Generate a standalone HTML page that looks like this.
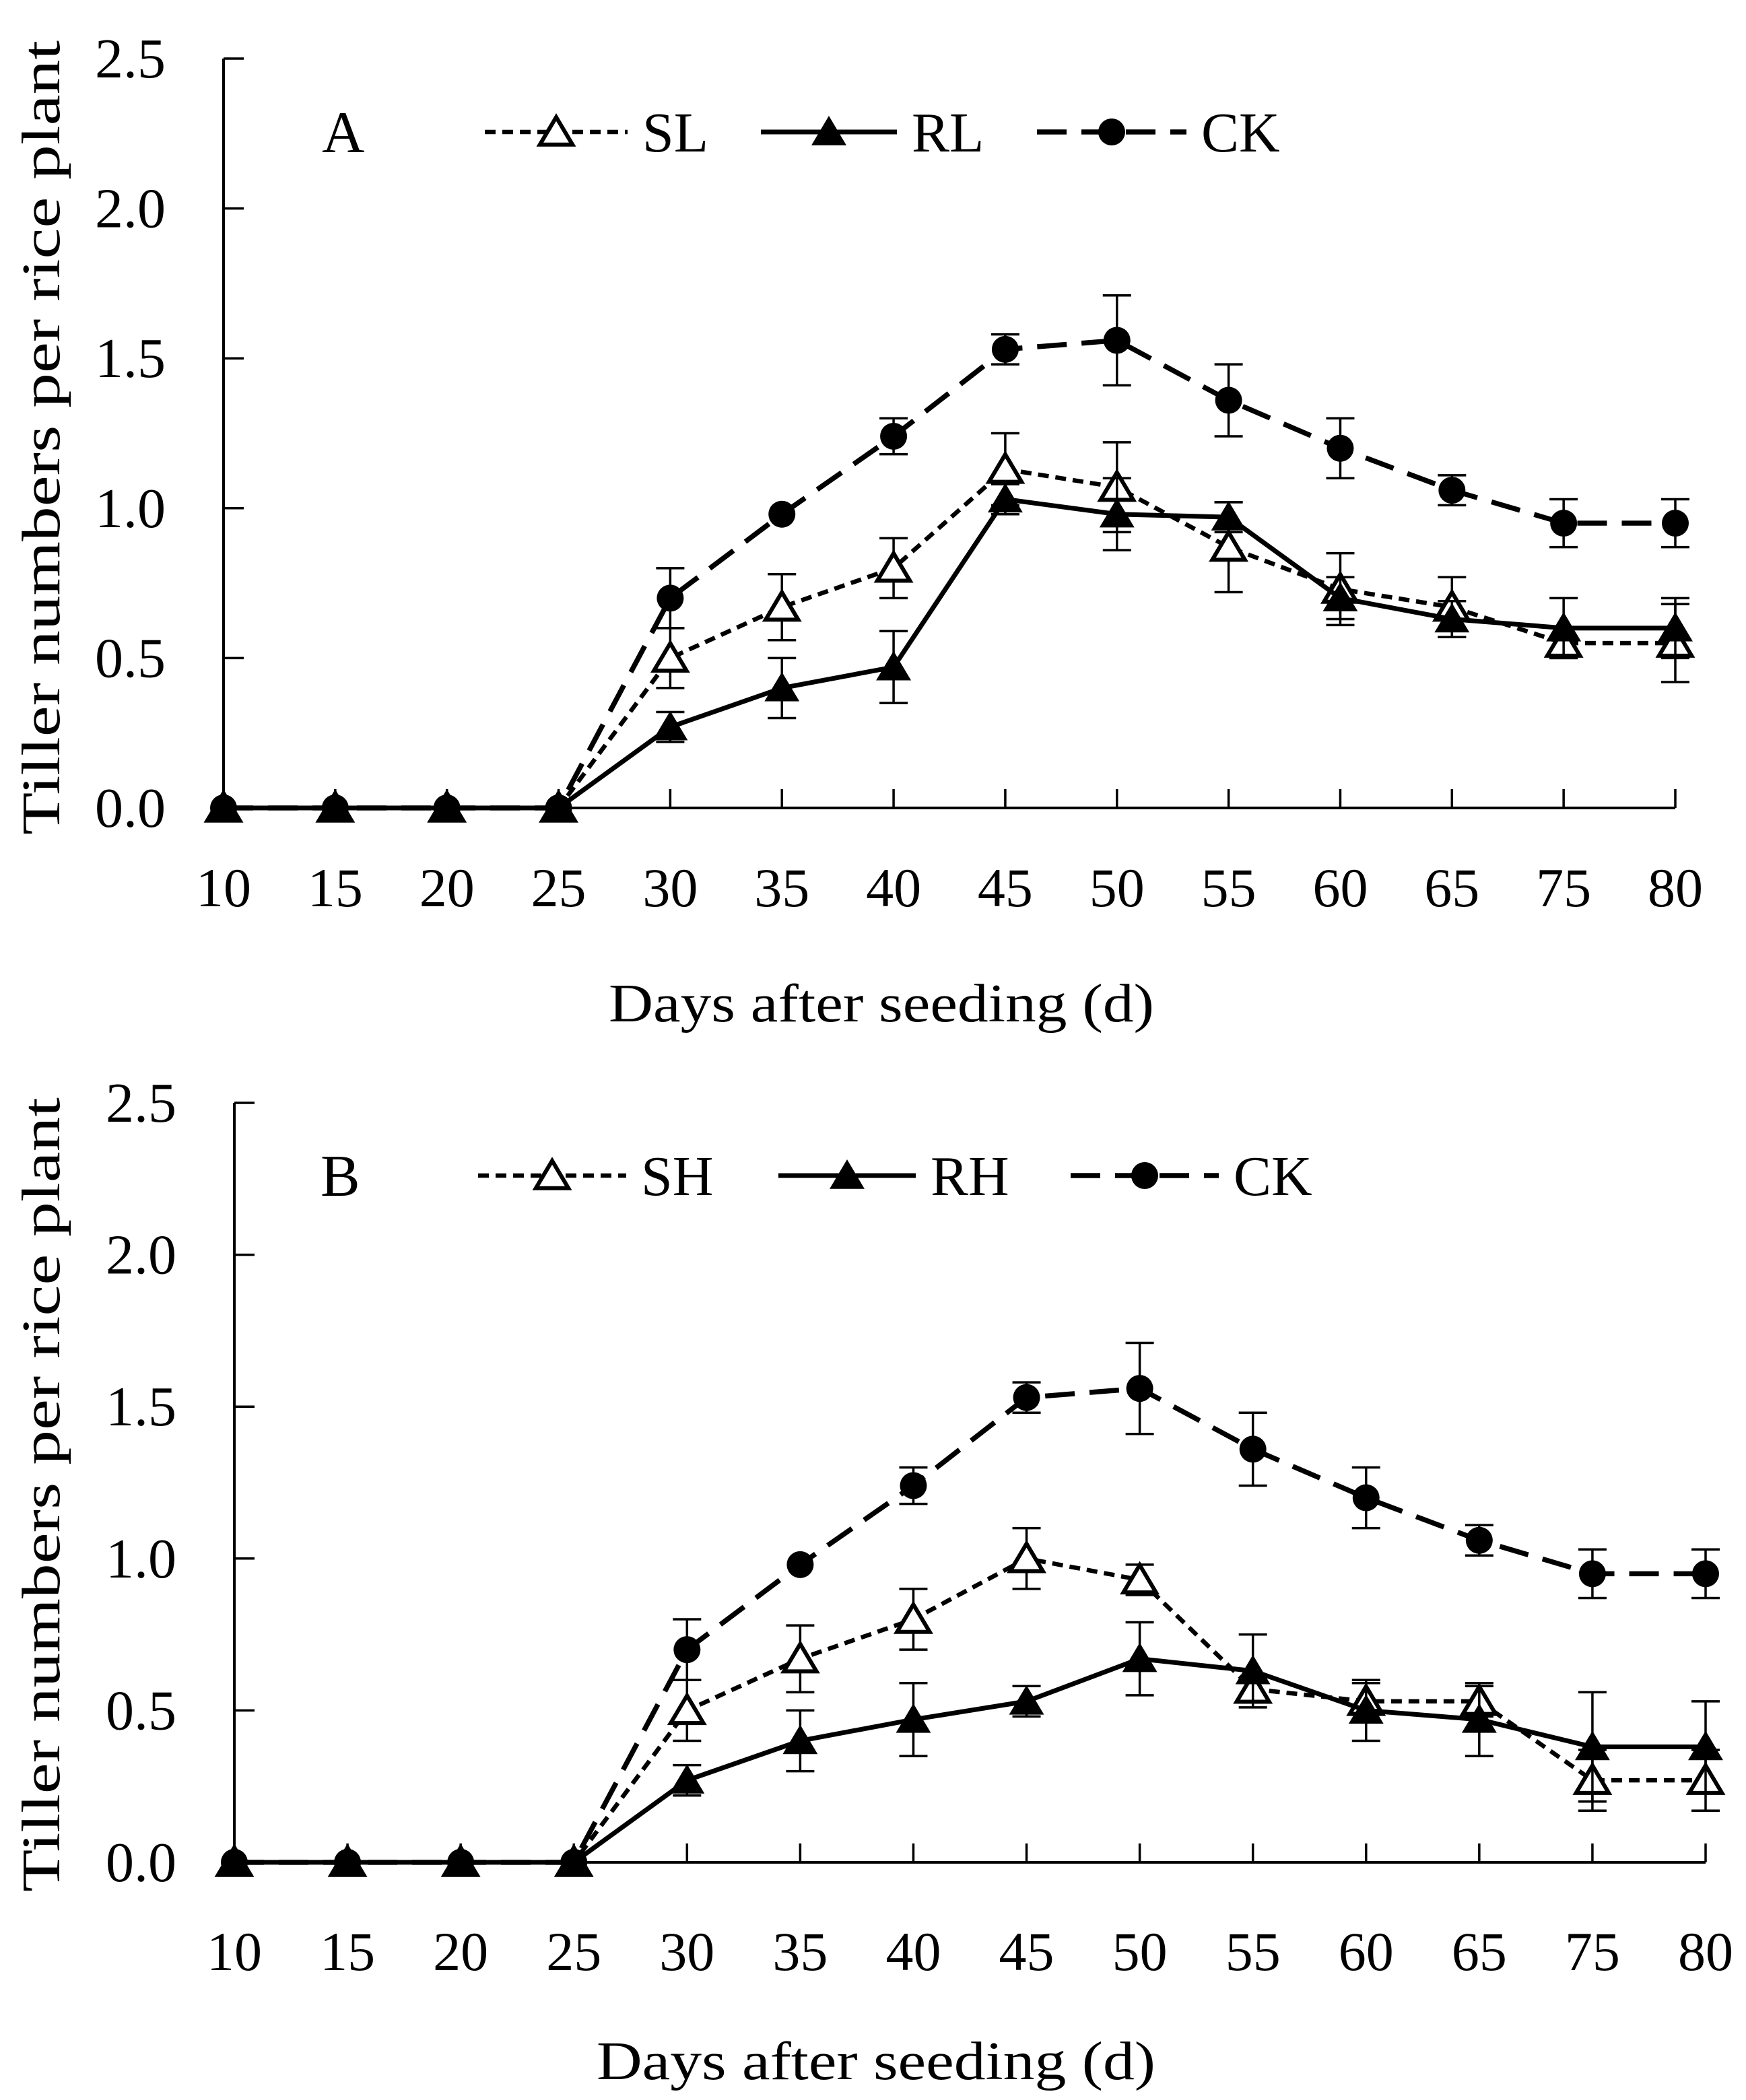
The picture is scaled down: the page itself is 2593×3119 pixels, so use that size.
<!DOCTYPE html>
<html><head><meta charset="utf-8"><style>
html,body{margin:0;padding:0;background:#fff}
svg{display:block}
text{font-family:"Liberation Serif",serif;fill:#000}
</style></head><body>
<svg id="chart" width="2593" height="3119" viewBox="0 0 2593 3119" xmlns="http://www.w3.org/2000/svg"></svg>
<script>
const categories = ["10","15","20","25","30","35","40","45","50","55","60","65","75","80"];
const yTicks = [0,0.5,1.0,1.5,2.0,2.5];
const yTickLabels = ["0.0","0.5","1.0","1.5","2.0","2.5"];
const ckValues = [0,0,0,0,0.70,0.98,1.24,1.53,1.56,1.36,1.20,1.06,0.95,0.95];
const ckErrors = [0,0,0,0,0.10,0,0.06,0.05,0.15,0.12,0.10,0.05,0.08,0.08];
const slValues = [0,0,0,0,0.50,0.67,0.80,1.13,1.07,0.87,0.73,0.67,0.55,0.55];
const slErrors = [0,0,0,0,0.10,0.11,0.10,0.12,0.15,0.15,0.12,0.10,0.05,0.13];
const rlValues = [0,0,0,0,0.27,0.40,0.47,1.03,0.98,0.97,0.70,0.63,0.60,0.60];
const rlErrors = [0,0,0,0,0.05,0.10,0.12,0.05,0.12,0.05,0.07,0.06,0.10,0.10];
const shValues = [0,0,0,0,0.50,0.67,0.80,1.00,0.93,0.57,0.53,0.53,0.27,0.27];
const shErrors = [0,0,0,0,0.10,0.11,0.10,0.10,0.05,0.03,0.06,0.05,0.10,0.10];
const rhValues = [0,0,0,0,0.27,0.40,0.47,0.53,0.67,0.63,0.50,0.47,0.38,0.38];
const rhErrors = [0,0,0,0,0.05,0.10,0.12,0.05,0.12,0.12,0.10,0.12,0.18,0.15];

const NS="http://www.w3.org/2000/svg";
const svg=document.getElementById('chart');
function mk(tag,attrs,parent){const e=document.createElementNS(NS,tag);for(const k in attrs)e.setAttribute(k,attrs[k]);(parent||svg).appendChild(e);return e;}

function panel(cfg){
  const g=mk('g',{});
  
  
  const x=i=>cfg.x0+i*(cfg.x1-cfg.x0)/(categories.length-1);
  const y=v=>cfg.y0-v*(cfg.y0-cfg.yTop)/2.5;
  const ax=mk('path',{d:`M${cfg.x0},${cfg.yTop} V${cfg.y0} H${cfg.x1}`,fill:'none',stroke:'#000','stroke-width':4},g);
  
  
  yTicks.forEach((t,i)=>{
    mk('line',{x1:cfg.x0,x2:cfg.x0+30,y1:y(t),y2:y(t),stroke:'#000','stroke-width':3.5},g);
    const tx=mk('text',{x:cfg.yLabelX,y:y(t)+28,'text-anchor':'end','font-size':84},g);
    tx.textContent=yTickLabels[i];
    
    
  });
  categories.forEach((c,i)=>{
    mk('line',{x1:x(i),x2:x(i),y1:cfg.y0,y2:cfg.y0-28,stroke:'#000','stroke-width':3.5},g);
    const tx=mk('text',{x:x(i),y:cfg.xLabelY,'text-anchor':'middle','font-size':82},g);
    tx.textContent=c;
    
    
  });
  const yt=mk('text',{x:0,y:0,'text-anchor':'middle','font-size':80,textLength:1180,lengthAdjust:'spacingAndGlyphs',transform:`translate(${cfg.yTitleX},${cfg.yTitleY}) rotate(-90)`},g);
  yt.textContent='Tiller numbers per rice plant';
  
  
  const xt=mk('text',{x:cfg.xTitleX,y:cfg.xTitleY,'text-anchor':'middle','font-size':80,textLength:cfg.xTitleW,lengthAdjust:'spacingAndGlyphs'},g);
  xt.textContent='Days after seeding (d)';
  
  
  const pl=mk('text',{x:cfg.letterX,y:cfg.legY+30,'font-size':88},g);
  pl.textContent=cfg.letter;
  
  

  function marker(px,py,type,parent){
    if(type==='circle') return mk('circle',{cx:px,cy:py,r:20,fill:'#000'},parent);
    const s=22;
    return mk('polygon',{points:`${px},${py-s} ${px+s*1.1},${py+s*0.85} ${px-s*1.1},${py+s*0.85}`,fill:type==='open'?'#fff':'#000',stroke:'#000','stroke-width':type==='open'?6:2},parent);
  }
  cfg.series.forEach(s=>{
    const sg=mk('g',{},g);
    
    
    s.err.forEach((e,i)=>{
      if(e<=0)return;
      const px=x(i),lo=y(s.vals[i]-e),hi=y(s.vals[i]+e);
      mk('path',{d:`M${px},${lo} V${hi} M${px-21},${lo} H${px+21} M${px-21},${hi} H${px+21}`,stroke:'#000','stroke-width':3.5,fill:'none'},sg);
    });
    const pts=s.vals.map((v,i)=>x(i)+','+y(v)).join(' ');
    mk('polyline',{points:pts,fill:'none',stroke:'#000','stroke-width':s.width,'stroke-dasharray':s.dash},sg);
    s.vals.forEach((v,i)=>{
      const m=marker(x(i),y(v),s.marker,sg);
      
      
    });
    const lg=mk('g',{},g);
    
    
    mk('line',{x1:s.legX0,x2:s.legX1,y1:cfg.legY,y2:cfg.legY,stroke:'#000','stroke-width':s.width,'stroke-dasharray':s.dash},lg);
    marker((s.legX0+s.legX1)/2,cfg.legY,s.marker,lg);
    const lt=mk('text',{x:s.legX1+22,y:cfg.legY+29,'font-size':84},lg);
    lt.textContent=s.label;
  });
}

panel({name:'panel-a',letter:'A',x0:332,x1:2488,y0:1200,yTop:87,yLabelX:246,xLabelY:1346,
  yTitleX:88,yTitleY:650,xTitleX:1309,xTitleY:1517,xTitleW:810,letterX:478,legY:196,
  series:[
    {label:'CK',vals:ckValues,err:ckErrors,marker:'circle',dash:'44 22',width:7.5,legX0:1540,legX1:1762},
    {label:'SL',vals:slValues,err:slErrors,marker:'open',dash:'16 10',width:6.5,legX0:720,legX1:932},
    {label:'RL',vals:rlValues,err:rlErrors,marker:'filled',dash:'none',width:7,legX0:1130,legX1:1332}
  ]});
panel({name:'panel-b',letter:'B',x0:348,x1:2533,y0:2766,yTop:1638,yLabelX:262,xLabelY:2926,
  yTitleX:88,yTitleY:2220,xTitleX:1301,xTitleY:3088,xTitleW:830,letterX:476,legY:1746,
  series:[
    {label:'CK',vals:ckValues,err:ckErrors,marker:'circle',dash:'44 22',width:7.5,legX0:1590,legX1:1810},
    {label:'SH',vals:shValues,err:shErrors,marker:'open',dash:'16 10',width:6.5,legX0:710,legX1:930},
    {label:'RH',vals:rhValues,err:rhErrors,marker:'filled',dash:'none',width:7,legX0:1156,legX1:1360}
  ]});
</script>
</body></html>
